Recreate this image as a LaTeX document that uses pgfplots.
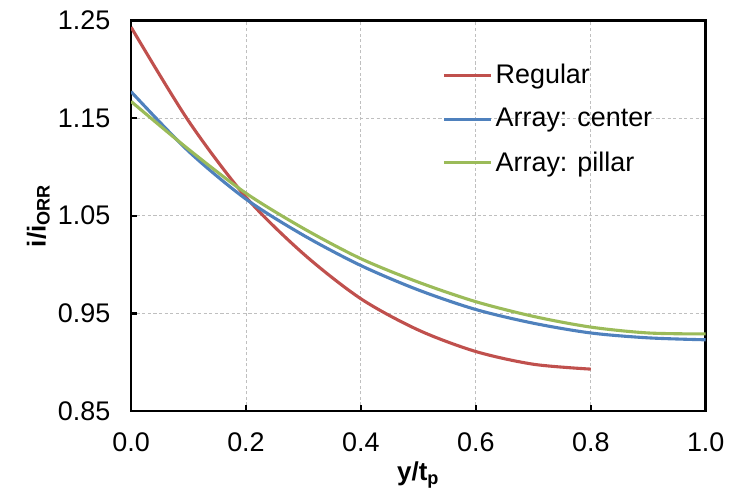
\documentclass[border=0pt]{standalone}
\usepackage{pgfplots}
\pgfplotsset{compat=1.18}
\usepackage{fontspec}
\setmainfont{Liberation Sans}
\definecolor{cred}{RGB}{192,80,77}
\definecolor{cblue}{RGB}{79,129,189}
\definecolor{cgreen}{RGB}{155,187,89}
\begin{document}
\begin{tikzpicture}
\begin{axis}[
  scale only axis,
  width=277.6pt, height=188.8pt,
  xmin=0, xmax=1, ymin=0.85, ymax=1.25,
  xtick={0,0.2,0.4,0.6,0.8,1.0},
  ytick={0.85,0.95,1.05,1.15,1.25},
  /pgf/number format/assume math mode=true,
  xticklabel={\fontsize{13}{15}\selectfont\pgfmathprintnumber[fixed,fixed zerofill,precision=1]{\tick}},
  yticklabel={\fontsize{13}{15}\selectfont\pgfmathprintnumber[fixed,fixed zerofill,precision=2]{\tick}},
  xticklabel style={yshift=-7pt},
  yticklabel style={xshift=-6.5pt},
  tick align=inside,
  major tick length=3pt,
  xtick pos=bottom, ytick pos=left,
  axis line style={line width=1.3pt},
  every tick/.style={black, line width=1.1pt},
  grid=major,
  major grid style={gray!50, dash pattern=on 1.5pt off 1.2pt, line width=0.4pt},
  xlabel={\textbf{y/t\textsubscript{p}}},
  ylabel={\textbf{i/i\textsubscript{ORR}}},
  label style={font=\fontsize{12.5}{15}\selectfont},
  xlabel style={yshift=2pt},
  ylabel shift=-3pt,
  legend style={draw=none, fill=none, at={(rel axis cs:0.541,0.90)}, anchor=north west,
    font=\fontsize{13}{15}\selectfont, row sep=6.5pt, inner sep=0pt,
    nodes={inner xsep=1.5pt}},
  legend cell align=left,
  legend image code/.code={\draw[#1, line width=1.5pt] (0cm,0cm) -- (0.8cm,0cm);},
  every axis plot/.append style={line width=1.5pt},
  after end axis/.code={\path (rel axis cs:0,0) ++(-63.3pt,-36.2pt) (rel axis cs:1,1) ++(12.7pt,9.8pt);},
]
\addplot[cred, smooth] coordinates {
(0,1.243) (0.1,1.147) (0.2,1.069) (0.3,1.011) (0.4,0.965) (0.5,0.933) (0.6,0.911) (0.7,0.898) (0.8,0.893)};
\addlegendentry{Regular}
\addplot[cblue, smooth] coordinates {
(0,1.177) (0.1,1.116) (0.2,1.067) (0.3,1.030) (0.4,0.999) (0.5,0.974) (0.6,0.954) (0.7,0.940) (0.8,0.930) (0.9,0.925) (1.0,0.923)};
\addlegendentry{Array: center}
\addplot[cgreen, smooth] coordinates {
(0,1.167) (0.1,1.118) (0.2,1.073) (0.3,1.037) (0.4,1.006) (0.5,0.982) (0.6,0.962) (0.7,0.947) (0.8,0.936) (0.9,0.930) (1.0,0.929)};
\addlegendentry{Array: pillar}
\end{axis}
\end{tikzpicture}
\end{document}
